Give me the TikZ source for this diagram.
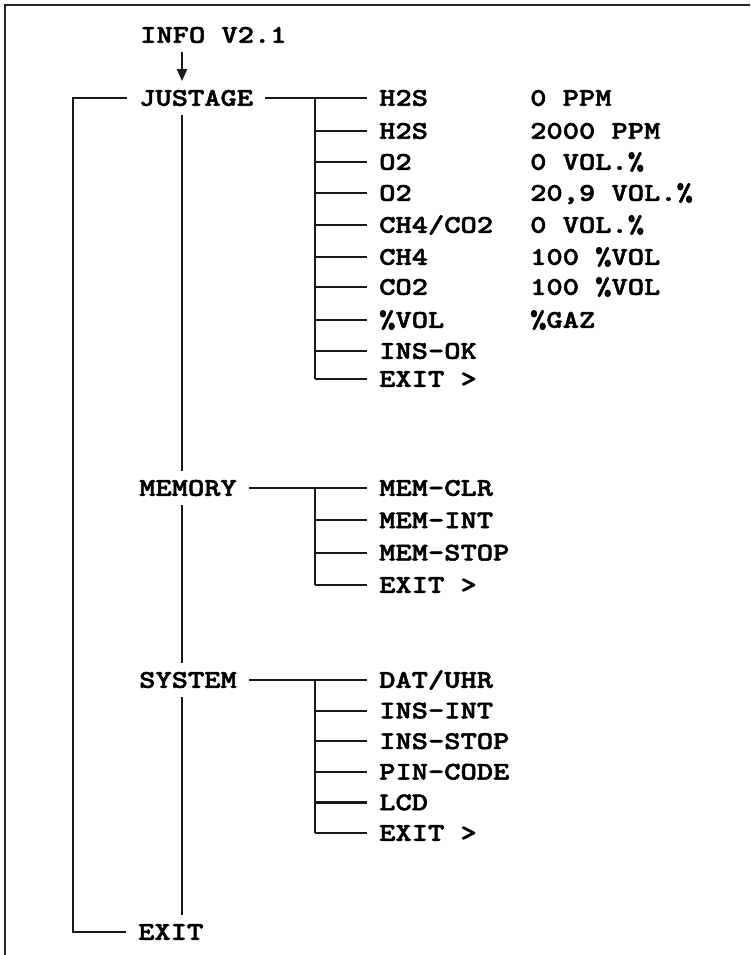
\documentclass[tikz,border=0pt]{standalone}
\usepackage{fontspec}
\newfontfamily\courfont[FakeStretch=1.22,FakeBold=2]{lmmonolt10-bold.otf}
\usetikzlibrary{arrows.meta}
\begin{document}
\begin{tikzpicture}[x=1pt,y=-1pt,
  lbl/.style={anchor=west, inner xsep=12pt, inner ysep=9pt, text height=15.5pt, text depth=0pt,
              font=\courfont\fontsize{25.4}{26}\selectfont, text=black},
  ln/.style={line width=2.2pt, draw=black!90},
  arr/.style={ln, -{Triangle[length=12pt,width=10pt]}}]
\useasboundingbox (0,0) rectangle (750,955);
% frame (top and left edges)
\draw[line width=2.4pt, draw=black!85] (5,955) -- (5,5) -- (750,5);

% guide coordinates
\coordinate (spinex) at (182,0);
\coordinate (leftx) at (73,0);
\coordinate (jx) at (315,0);

% main column
\node[lbl] (info) at (128,35) {INFO V2.1};
\node[lbl] (just) at (127,98) {JUSTAGE};
\node[lbl] (mem) at (127,488) {MEMORY};
\node[lbl] (sys) at (127,680) {SYSTEM};
\node[lbl] (exit) at (126,932) {EXIT};

% JUSTAGE submenu
\node[lbl] (j1) at (367,98) {H2S};
\node[lbl] (j2) at (367,131) {H2S};
\node[lbl] (j3) at (367,162) {O2};
\node[lbl] (j4) at (367,193) {O2};
\node[lbl] (j5) at (367,225) {CH4/CO2};
\node[lbl] (j6) at (367,257) {CH4};
\node[lbl] (j7) at (367,287) {CO2};
\node[lbl] (j8) at (367,320) {\%VOL};
\node[lbl] (j9) at (367,351) {INS-OK};
\node[lbl] (j10) at (367,379) {EXIT >};
\node[lbl] (v1) at (518,98) {0 PPM};
\node[lbl] (v2) at (518,131) {2000 PPM};
\node[lbl] (v3) at (518,162) {0 VOL.\%};
\node[lbl] (v4) at (518,193) {20,9 VOL.\%};
\node[lbl] (v5) at (518,225) {0 VOL.\%};
\node[lbl] (v6) at (518,257) {100 \%VOL};
\node[lbl] (v7) at (518,287) {100 \%VOL};
\node[lbl] (v8) at (518,320) {\%GAZ};

% MEMORY submenu
\node[lbl] (m1) at (367,488) {MEM-CLR};
\node[lbl] (m2) at (367,520.3) {MEM-INT};
\node[lbl] (m3) at (367,552.7) {MEM-STOP};
\node[lbl] (m4) at (367,585) {EXIT >};

% SYSTEM submenu
\node[lbl] (s1) at (367,680) {DAT/UHR};
\node[lbl] (s2) at (367,710.6) {INS-INT};
\node[lbl] (s3) at (367,741.2) {INS-STOP};
\node[lbl] (s4) at (367,771.8) {PIN-CODE};
\node[lbl] (s5) at (367,802.4) {LCD};
\node[lbl] (s6) at (367,833) {EXIT >};

% arrow and spine
\draw[arr] (info.south -| spinex) -- (just.north -| spinex);
\draw[ln] (just.south -| spinex) -- (mem.north -| spinex);
\draw[ln] (mem.south -| spinex) -- (sys.north -| spinex);
\draw[ln] (sys.south -| spinex) -- (exit.north -| spinex);

% left loop to EXIT
\draw[ln] (just.west) -- (just.west -| leftx) -- (exit.west -| leftx) -- (exit.west);

% JUSTAGE branches
\draw[ln] (just.east) -- (j1.west);
\draw[ln] (j1.west -| jx) -- (j10.west -| jx);
\foreach \n in {j2,j3,j4,j5,j6,j7,j8,j9,j10}
  \draw[ln] (\n.west -| jx) -- (\n.west);

% MEMORY branches
\draw[ln] (mem.east) -- (m1.west);
\draw[ln] (m1.west -| jx) -- (m4.west -| jx);
\foreach \n in {m2,m3,m4}
  \draw[ln] (\n.west -| jx) -- (\n.west);

% SYSTEM branches
\draw[ln] (sys.east) -- (s1.west);
\draw[ln] (s1.west -| jx) -- (s6.west -| jx);
\foreach \n in {s2,s3,s4,s5,s6}
  \draw[ln] (\n.west -| jx) -- (\n.west);
\end{tikzpicture}
\end{document}
